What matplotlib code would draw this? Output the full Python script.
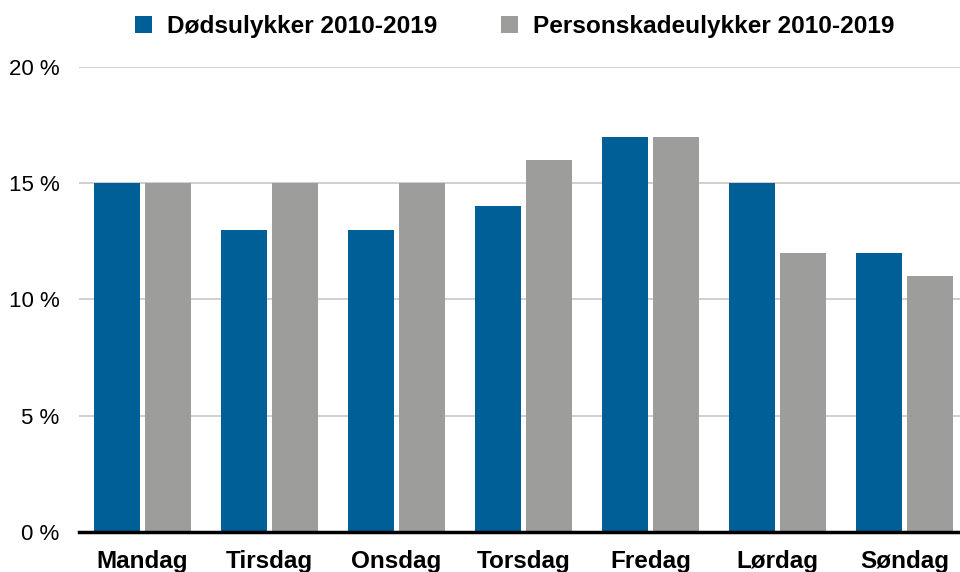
import numpy as np
import matplotlib
matplotlib.use("Agg")
import matplotlib.pyplot as plt
from matplotlib.ticker import FuncFormatter

# Share of accidents per weekday (%)
days = ["Mandag", "Tirsdag", "Onsdag", "Torsdag", "Fredag", "Lørdag", "Søndag"]
fatal = [15, 13, 13, 14, 17, 15, 12]
injury = [15, 15, 15, 16, 17, 12, 11]
series_names = ["Dødsulykker 2010-2019", "Personskadeulykker 2010-2019"]

blue = "#005F96"
grey = "#9D9D9C"

plt.rcParams["font.family"] = ["Liberation Sans", "DejaVu Sans"]

fig = plt.figure(figsize=(9.6, 5.72), dpi=100)
ax = fig.add_axes([0.0823, 0.0699, 0.9177, 0.8131])

x = np.arange(len(days))
w = 0.362
gap = 0.039
ax.bar(x - (w + gap) / 2, fatal, width=w, color=blue, label=series_names[0], zorder=3)
ax.bar(x + (w + gap) / 2, injury, width=w, color=grey, label=series_names[1], zorder=3)

ax.set_xlim(-0.5, len(days) - 1 + 0.437)
ax.set_ylim(0, 20)
ax.set_yticks([0, 5, 10, 15, 20])
ax.yaxis.set_major_formatter(FuncFormatter(lambda v, p: f"{v:.0f} %"))
ax.set_xticks(x)
ax.set_xticklabels(days, fontsize=17.5, fontweight="bold")
ax.tick_params(axis="y", length=0, pad=14, labelsize=16)
ax.tick_params(axis="x", length=0, pad=13)

ax.grid(axis="y", color="#CCCCCC", linewidth=1.3, zorder=0)
for side in ["top", "right", "left"]:
    ax.spines[side].set_visible(False)
ax.spines["bottom"].set_linewidth(2.5)
ax.spines["bottom"].set_color("black")
ax.spines["bottom"].set_zorder(4)

leg = fig.legend(loc="center", bbox_to_anchor=(0.536, 0.953), ncol=2, frameon=False,
                 prop={"size": 17.6, "weight": "bold"}, handlelength=0.7, handleheight=0.7,
                 handletextpad=0.6, columnspacing=2.6)

fig.savefig("out.png", dpi=100)
